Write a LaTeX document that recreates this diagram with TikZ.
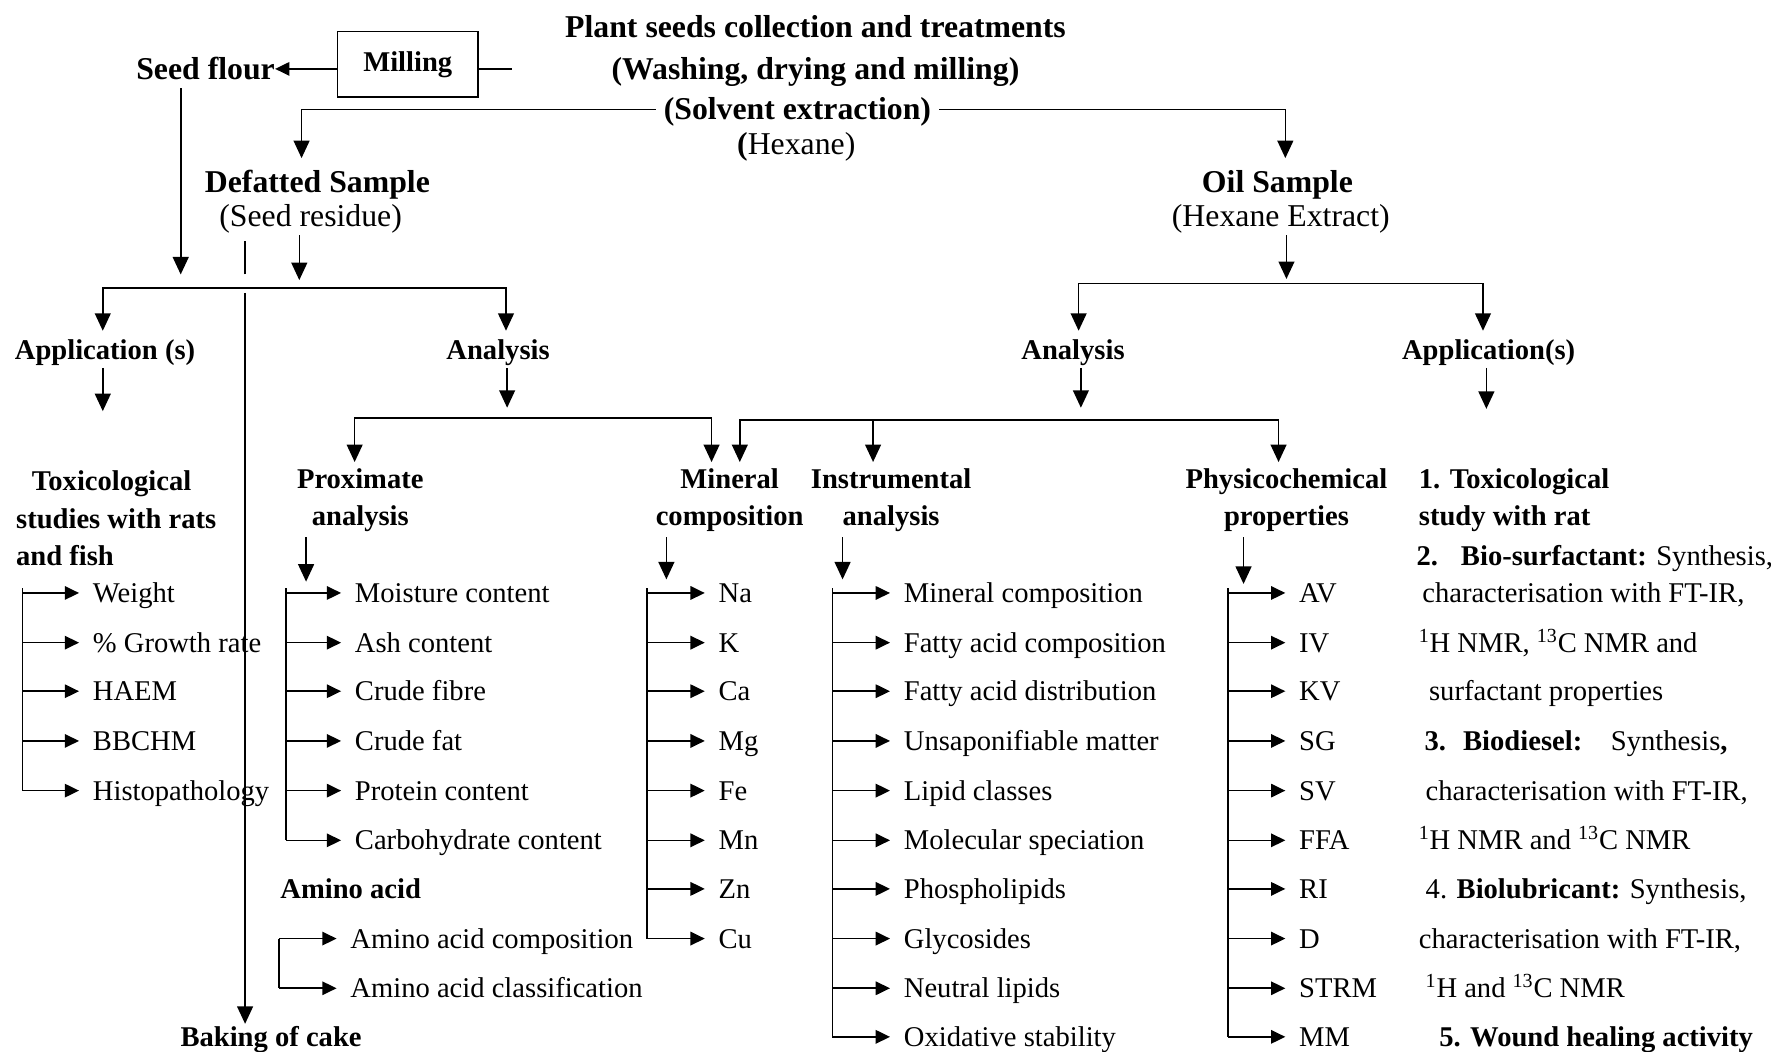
\documentclass[tikz,border=0pt]{standalone}
\usepackage{fontspec}
\setmainfont{Liberation Serif}
\usetikzlibrary{arrows.meta, positioning, calc}

\tikzset{
  lnk/.style={line width=1pt},
  arr/.style={lnk, -{Triangle[length=9pt,width=8.5pt]}},
  down/.style={lnk, -{Triangle[length=11pt,width=10pt]}, shorten <=3pt},
  twin/.style={lnk, {Triangle[length=11pt,width=10pt]}-{Triangle[length=11pt,width=10pt]}, shorten <=4pt, shorten >=4pt},
  title/.style={font=\fontsize{20}{24}\selectfont\bfseries, inner sep=0pt, text height=15.5pt, text depth=2.5pt},
  subtitle/.style={font=\fontsize{20}{24}\selectfont, inner sep=0pt, text height=15.5pt, text depth=2.5pt},
  head/.style={font=\fontsize{18}{23.5}\selectfont\bfseries, align=center, inner sep=0pt},
  headone/.style={font=\fontsize{18}{22}\selectfont\bfseries, inner sep=0pt, text height=14pt, text depth=2pt},
  leaf/.style={font=\fontsize{18}{22}\selectfont, anchor=west, inner ysep=0pt, inner xsep=0.3cm, text height=14pt, text depth=2pt},
  note/.style={font=\fontsize{18}{22}\selectfont, anchor=west, inner sep=0pt, text height=14pt, text depth=2pt},
}

\begin{document}
\begin{tikzpicture}[x=0.025cm, y=-0.025cm]
\useasboundingbox (0,0) rectangle (1568,931);

% seeds and extraction
\node[title] (plant) at (722,24) {Plant seeds collection and treatments};
\node[title] (wash) at (722,61) {(Washing, drying and milling)};
\node[title, inner xsep=0.175cm] (solv) at (706,97) {(Solvent extraction)};
\node[subtitle] (hex) at (705,128) {\textbf{(}Hexane)};
\node[draw, lnk, font=\fontsize{18}{22}\selectfont\bfseries, minimum width=3.1cm, minimum height=1.45cm] (mill) at (361,57) {Milling};
\node[title] (flour) at (182,61) {Seed flour};
\draw[arr] (mill.west |- flour.east) -- (flour.east);
\draw[lnk] (mill.east |- flour.east) -- ++(30,0);

\coordinate (defin) at (267,140);
\coordinate (oilin) at (1138,140);
\draw[down, shorten <=0pt] (solv.west) -| (defin);
\draw[down, shorten <=0pt] (solv.east) -| (oilin);

\node[title] (defat) at (281,161) {Defatted Sample};
\node[subtitle] (resid) at (275,191) {(Seed residue)};
\node[title] (oil) at (1131,161) {Oil Sample};
\node[subtitle] (ext) at (1134,191) {(Hexane Extract)};

% defatted sample branch
\node[headone] (appL) at (93,310) {Application (s)};
\node[headone] (anaL) at (441,310) {Analysis};
\node[headone] (bake) at (240,918) {Baking of cake};
\coordinate (busL) at (91,255);
\coordinate (busLr) at (448,255);
\coordinate (flourtip) at (160,243);
\coordinate (restip) at (265,248);
\coordinate (cut) at (217,243);
\coordinate (cake) at (217,255);
\draw[down] (flour.south -| flourtip) -- (flourtip);
\draw[down] (resid.south -| restip) -- (restip);
\draw[lnk, shorten >=7pt] (cut) -- (cut |- resid.south);
\draw[twin] (busL |- appL.north) -- (busL) -- (busLr) -- (busLr |- anaL.north);
\draw[down] (cake) -- (cake |- bake.north);

% oil sample branch
\node[headone] (anaR) at (950,310) {Analysis};
\node[headone] (appR) at (1318,310) {Application(s)};
\coordinate (oiltip) at (1139,247);
\coordinate (busR) at (955,251);
\coordinate (busRr) at (1313,251);
\draw[down] (ext.south -| oiltip) -- (oiltip);
\draw[twin] (busR |- anaR.north) -- (busR) -- (busRr) -- (busRr |- appR.north);

\coordinate (apptip) at (91,364);
\coordinate (appRtip) at (1316,362);
\coordinate (anaLtip) at (449,361);
\coordinate (anaRtip) at (957,361);
\draw[down] (appL.south -| apptip) -- (apptip);
\draw[down] (appR.south -| appRtip) -- (appRtip);
\draw[down] (anaL.south -| anaLtip) -- (anaLtip);
\draw[down] (anaR.south -| anaRtip) -- (anaRtip);

% third level
\node[head, align=left, anchor=west] (tox) at (14,459) {\hspace*{0.35cm}Toxicological\\studies with rats\\and fish};
\node[head] (prox) at (319,443) {Proximate\\analysis};
\node[head] (mine) at (646,443) {Mineral\\composition};
\node[head] (inst) at (789,443) {Instrumental\\analysis};
\node[head] (phys) at (1139,443) {Physicochemical\\properties};
\node[head, align=left, anchor=west] (rat) at (1256,443) {1. Toxicological\\study with rat};

\coordinate (busA) at (314,370);
\coordinate (busAr) at (630,370);
\coordinate (busB) at (655,372);
\coordinate (busBm) at (773,372);
\coordinate (busBr) at (1132,372);
\draw[twin] (busA |- prox.north) -- (busA) -- (busAr) -- (busAr |- mine.north);
\draw[twin] (busB |- mine.north) -- (busB) -- (busBr) -- (busBr |- phys.north);
\draw[down, shorten <=0pt, shorten >=4pt] (busBm) -- (busBm |- inst.north);

\coordinate (proxin) at (271,515);
\coordinate (minein) at (590,513);
\coordinate (instin) at (746,513);
\coordinate (physin) at (1101,517);
\draw[down] (prox.south -| proxin) -- (proxin);
\draw[down] (mine.south -| minein) -- (minein);
\draw[down] (inst.south -| instin) -- (instin);
\draw[down] (phys.south -| physin) -- (physin);

% toxicology list
\node[leaf] (t1) at (70,525) {Weight};
\node[leaf] (t2) at (70,569) {\% Growth rate};
\node[leaf] (t3) at (70,612) {HAEM};
\node[leaf] (t4) at (70,656) {BBCHM};
\node[leaf] (t5) at (70,700) {Histopathology};
\coordinate (toxbar) at (20,521);
\draw[lnk] (toxbar) -- (toxbar |- t5.west);
\foreach \i in {1,...,5} \draw[arr] (toxbar |- t\i.west) -- (t\i.west);

% proximate list
\node[leaf] (p1) at (302,525) {Moisture content};
\node[leaf] (p2) at (302,569) {Ash content};
\node[leaf] (p3) at (302,612) {Crude fibre};
\node[leaf] (p4) at (302,656) {Crude fat};
\node[leaf] (p5) at (302,700) {Protein content};
\node[leaf] (p6) at (302,744) {Carbohydrate content};
\coordinate (proxbar) at (253,521);
\draw[lnk] (proxbar) -- (proxbar |- p6.west);
\foreach \i in {1,...,6} \draw[arr] (proxbar |- p\i.west) -- (p\i.west);

\node[headone, anchor=west] (amino) at (248,787) {Amino acid};
\node[leaf] (a1) at (298,831) {Amino acid composition};
\node[leaf] (a2) at (298,875) {Amino acid classification};
\coordinate (aminobar) at (247,831);
\draw[lnk] (aminobar) -- (aminobar |- a2.west);
\foreach \i in {1,2} \draw[arr] (aminobar |- a\i.west) -- (a\i.west);

% mineral list
\node[leaf] (m1) at (624,525) {Na};
\node[leaf] (m2) at (624,569) {K};
\node[leaf] (m3) at (624,612) {Ca};
\node[leaf] (m4) at (624,656) {Mg};
\node[leaf] (m5) at (624,700) {Fe};
\node[leaf] (m6) at (624,744) {Mn};
\node[leaf] (m7) at (624,787) {Zn};
\node[leaf] (m8) at (624,831) {Cu};
\coordinate (minebar) at (573,521);
\draw[lnk] (minebar) -- (minebar |- m8.west);
\foreach \i in {1,...,8} \draw[arr] (minebar |- m\i.west) -- (m\i.west);

% instrumental list
\node[leaf] (i1) at (788,525) {Mineral composition};
\node[leaf] (i2) at (788,569) {Fatty acid composition};
\node[leaf] (i3) at (788,612) {Fatty acid distribution};
\node[leaf] (i4) at (788,656) {Unsaponifiable matter};
\node[leaf] (i5) at (788,700) {Lipid classes};
\node[leaf] (i6) at (788,744) {Molecular speciation};
\node[leaf] (i7) at (788,787) {Phospholipids};
\node[leaf] (i8) at (788,831) {Glycosides};
\node[leaf] (i9) at (788,875) {Neutral lipids};
\node[leaf] (i10) at (788,918) {Oxidative stability};
\coordinate (instbar) at (737,521);
\draw[lnk] (instbar) -- (instbar |- i10.west);
\foreach \i in {1,...,10} \draw[arr] (instbar |- i\i.west) -- (i\i.west);

% physicochemical list
\node[leaf] (c1) at (1138,525) {AV};
\node[leaf] (c2) at (1138,569) {IV};
\node[leaf] (c3) at (1138,612) {KV};
\node[leaf] (c4) at (1138,656) {SG};
\node[leaf] (c5) at (1138,700) {SV};
\node[leaf] (c6) at (1138,744) {FFA};
\node[leaf] (c7) at (1138,787) {RI};
\node[leaf] (c8) at (1138,831) {D};
\node[leaf] (c9) at (1138,875) {STRM};
\node[leaf] (c10) at (1138,918) {MM};
\coordinate (physbar) at (1087,521);
\draw[lnk] (physbar) -- (physbar |- c10.west);
\foreach \i in {1,...,10} \draw[arr] (physbar |- c\i.west) -- (c\i.west);

% oil applications
\node[note] (s1) at (1254,492) {\textbf{2.\hspace{0.8em}Bio-surfactant:} Synthesis,};
\node[note] (s2) at (1259,525) {characterisation with FT-IR,};
\node[note] (s3) at (1256,569) {\textsuperscript{1}H NMR, \textsuperscript{13}C NMR and};
\node[note] (s4) at (1265,612) {surfactant properties};
\node[note] (d1) at (1261,656) {\textbf{3.\hspace{0.6em}Biodiesel:}\hspace{1em}Synthesis\textbf{,}};
\node[note] (d2) at (1262,700) {characterisation with FT-IR,};
\node[note] (d3) at (1256,744) {\textsuperscript{1}H NMR and \textsuperscript{13}C NMR};
\node[note] (l1) at (1262,787) {4. \textbf{Biolubricant:} Synthesis,};
\node[note] (l2) at (1256,831) {characterisation with FT-IR,};
\node[note] (l3) at (1262,875) {\textsuperscript{1}H and \textsuperscript{13}C NMR};
\node[note] (w1) at (1274,918) {\textbf{5. Wound healing activity}};
\end{tikzpicture}
\end{document}
